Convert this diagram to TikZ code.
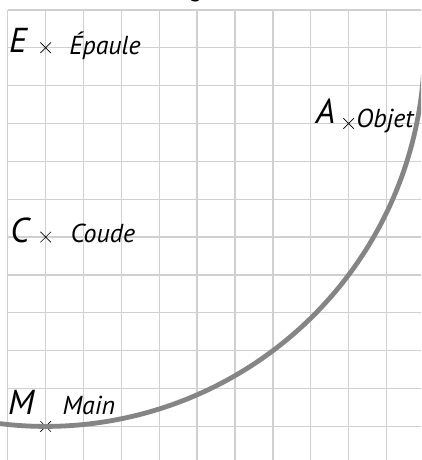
\documentclass[tikz,border=0pt]{standalone}
\usepackage{fontspec}
\setmainfont{PT Sans}
\usetikzlibrary{shapes.misc}
\definecolor{gridgray}{HTML}{D0D0D0}
\definecolor{arcgray}{HTML}{858585}
\tikzset{
  gridline/.style={draw=gridgray, line width=1pt},
  reach/.style={draw=arcgray, line width=3.6pt},
  mark cross/.style={cross out, draw=black, line width=0.5pt, minimum size=0.26cm, inner sep=0pt},
  bigletter/.style={anchor=base west, inner sep=0pt, font=\fontsize{26}{28}\selectfont\itshape},
  lbl/.style={anchor=base west, inner sep=0pt, font=\fontsize{19.5}{21}\selectfont\itshape},
}
\begin{document}
\begin{tikzpicture}
\useasboundingbox (-0.206,-0.887) rectangle (10.911,11.26);
\clip (-0.206,-0.887) rectangle (10.911,11.26);
\fill[white] (-0.206,-0.887) rectangle (10.911,11.26);
% grid
\foreach \i in {0,...,10} \draw[gridline] (\i,-0.9) -- (\i,11);
\foreach \j in {0,...,11} \draw[gridline] (0,\j) -- (10.95,\j);
% title fragment (cut off at top)
\node[lbl, anchor=base west] (title) at (4.83,11.34) {g};
% points
\node[mark cross] (E) at (1,10) {};
\node[mark cross] (C) at (1,5) {};
\node[mark cross] (M) at (1,0) {};
\node[mark cross] (A) at (9,8) {};
% reach arc centred on the shoulder
\draw[reach] (E) ++(-100:10) arc[start angle=-100, end angle=-4, radius=10];
% labels
\node[bigletter] (Elbl) at (0.03,9.87) {E};
\node[lbl] (Eepaule) at (1.62,9.81) {Épaule};
\node[bigletter] (Clbl) at (0.06,4.86) {C};
\node[lbl] (Ccoude) at (1.65,4.85) {Coude};
\node[bigletter] (Mlbl) at (0.0,0.32) {M};
\node[lbl] (Mmain) at (1.44,0.32) {Main};
\node[bigletter] (Albl) at (8.13,7.99) {A};
\node[lbl] (Aobjet) at (9.2,7.88) {Objet};
\end{tikzpicture}
\end{document}
